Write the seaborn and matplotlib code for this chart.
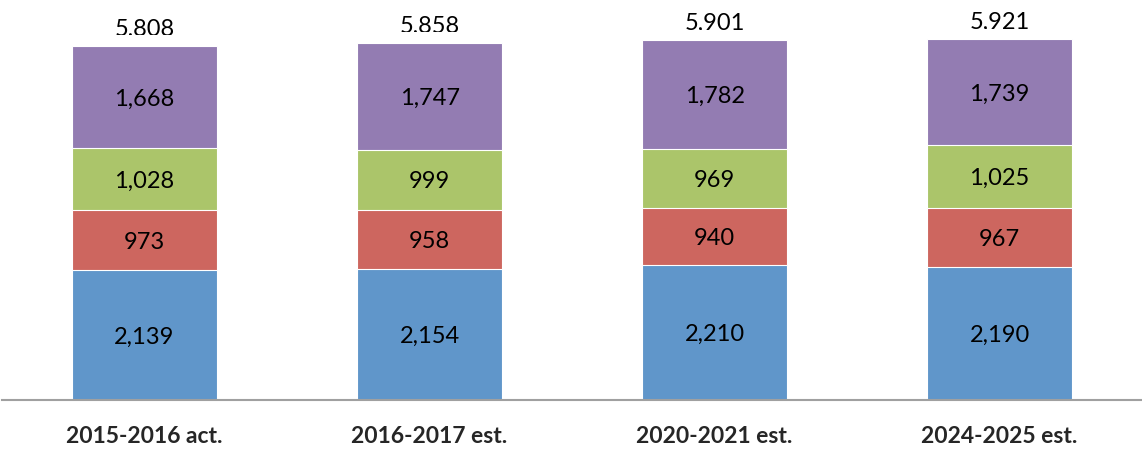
import numpy as np
import pandas as pd
import matplotlib
matplotlib.use("Agg")
import matplotlib.pyplot as plt
import seaborn as sns
from matplotlib.transforms import Bbox, TransformedBbox

categories = ["2015-2016 act.", "2016-2017 est.", "2020-2021 est.", "2024-2025 est."]
seg_blue = [2139, 2154, 2210, 2190]
seg_red = [973, 958, 940, 967]
seg_green = [1028, 999, 969, 1025]
seg_purple = [1668, 1747, 1782, 1739]
totals = [5808, 5858, 5901, 5921]

colors = ["#6096CA", "#CD665F", "#ABC56A", "#937CB2"]


def main():
    sns.set_style("white")
    plt.rcParams["font.family"] = ["Lato", "DejaVu Sans"]

    df = pd.DataFrame({"cat": categories, "blue": seg_blue, "red": seg_red,
                       "green": seg_green, "purple": seg_purple})
    layers = ["blue", "red", "green", "purple"]
    cum = df[layers].cumsum(axis=1)

    fig = plt.figure(figsize=(11.42, 4.57), dpi=100)
    ax = fig.add_axes([0.00175, 0.1247, 0.9983, 0.800])

    # stacked bars: draw tallest cumulative first, then smaller on top
    for layer, col in reversed(list(zip(layers, colors))):
        sns.barplot(x=df["cat"], y=cum[layer], color=col, width=0.51, saturation=1,
                    edgecolor="white", linewidth=0.8, ax=ax)

    # labels in the middle of each segment
    for i in range(len(categories)):
        bottom = 0
        for layer in layers:
            v = df.loc[i, layer]
            ax.text(i, bottom + v / 2, f"{v:,}", ha="center", va="center_baseline",
                    fontsize=17, color="black")
            bottom += v

    # totals above bars, bottoms clipped like in the original
    for i, t in enumerate(totals):
        base = t + 175
        txt = ax.text(i, base, f"{t:,}", ha="center", va="baseline",
                      fontsize=17, color="black")
        clip = TransformedBbox(Bbox([[i - 0.5, base], [i + 0.5, 9000]]), ax.transData)
        txt.set_clip_on(True)
        txt.set_clip_box(clip)

    ax.set_xlim(-0.5, 3.5)
    ax.set_ylim(0, 6000)
    ax.set_xlabel("")
    ax.set_ylabel("")
    ax.set_yticks([])
    ax.tick_params(axis="x", length=0, pad=19)
    for lab in ax.get_xticklabels():
        lab.set_fontsize(16.5)
        lab.set_fontweight("bold")
    for s in ["top", "left", "right"]:
        ax.spines[s].set_visible(False)
    ax.spines["bottom"].set_color("#A0A0A0")
    ax.spines["bottom"].set_linewidth(1.5)

    fig.savefig("out.png", dpi=100)


if __name__ == '__main__':
    main()
